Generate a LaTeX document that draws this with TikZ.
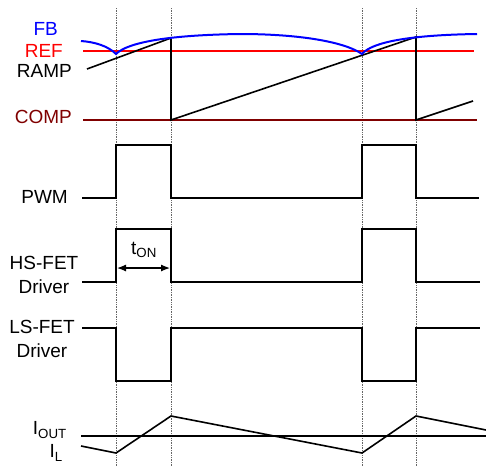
\documentclass[tikz,border=0pt]{standalone}
\usepackage{fontspec}
\setmainfont{Liberation Sans}
\usetikzlibrary{arrows.meta}
\definecolor{fbblue}{RGB}{0,0,255}
\definecolor{refred}{RGB}{255,0,0}
\definecolor{compred}{RGB}{128,0,0}
\begin{document}
\begin{tikzpicture}[x=1pt,y=-1pt,
    senal/.style={line width=1.6pt},
    guia/.style={black!60,densely dotted,line width=0.7pt},
    etiqueta/.style={anchor=east,font=\fontsize{19}{24}\selectfont,inner sep=0pt},
    cuadro/.style={align=center,font=\fontsize{19}{24}\selectfont,inner sep=0pt}]

    \useasboundingbox (0,0) rectangle (486,466);

    % Líneas verticales de referencia
    \foreach \x in {116,171,362,416}
        \draw[guia] (\x,8)--(\x,466);

    % Etiquetas
    \node[etiqueta,text=fbblue] (fb) at (58,29) {FB};
    \node[etiqueta,text=refred] (ref) at (63,51) {REF};
    \node[etiqueta] (ramp) at (72,71) {RAMP};
    \node[etiqueta,text=compred] (comp) at (72,117) {COMP};
    \node[etiqueta] (pwm) at (68,197) {PWM};
    \node[cuadro] (hs) at (44,275) {HS-FET\\Driver};
    \node[cuadro] (ls) at (42,339) {LS-FET\\Driver};
    \node[etiqueta] (iout) at (67,430) {I\textsubscript{OUT}};
    \node[etiqueta] (il) at (63,453) {I\textsubscript{L}};

    % REF y COMP
    \draw[refred,senal] (83,51)--(474,51);
    \draw[compred,senal] (83,120)--(477,120);

    % Rampa
    \draw[senal] (87,69)--(171,38)--(171,120)--(416,37)--(416,120)--(473,101);

    % FB
    \draw[fbblue,line width=2pt] (81,41) .. controls (95,42) and (108,46) .. (116,54)
        .. controls (128,42) and (170,35) .. (240,34)
        .. controls (300,34) and (345,42) .. (362,54)
        .. controls (372,42) and (410,35) .. (477,34);

    % PWM
    \draw[senal] (82,198)--(116,198)--(116,145)--(171,145)--(171,198)--(362,198)
        --(362,145)--(416,145)--(416,198)--(479,198);

    % HS-FET
    \draw[senal] (82,282)--(116,282)--(116,229)--(171,229)--(171,282)--(362,282)
        --(362,229)--(416,229)--(416,282)--(480,282);

    % LS-FET
    \draw[senal] (82,328)--(116,328)--(116,381)--(171,381)--(171,328)--(362,328)
        --(362,381)--(416,381)--(416,328)--(480,328);

    % t_ON
    \coordinate (ton1) at (117,268);
    \coordinate (ton2) at (170,268);
    \draw[line width=1.2pt,{Latex[length=9pt,width=7pt]}-{Latex[length=9pt,width=7pt]}] (ton1)--(ton2);
    \node[inner sep=0pt,font=\fontsize{19}{24}\selectfont] (ton) at (144,250) {t\textsubscript{ON}};

    % Corrientes
    \draw[senal] (81,436)--(486,436);
    \draw[senal] (81,446)--(116,453)--(171,416)--(362,453)--(416,416)--(486,430);

\end{tikzpicture}
\end{document}
